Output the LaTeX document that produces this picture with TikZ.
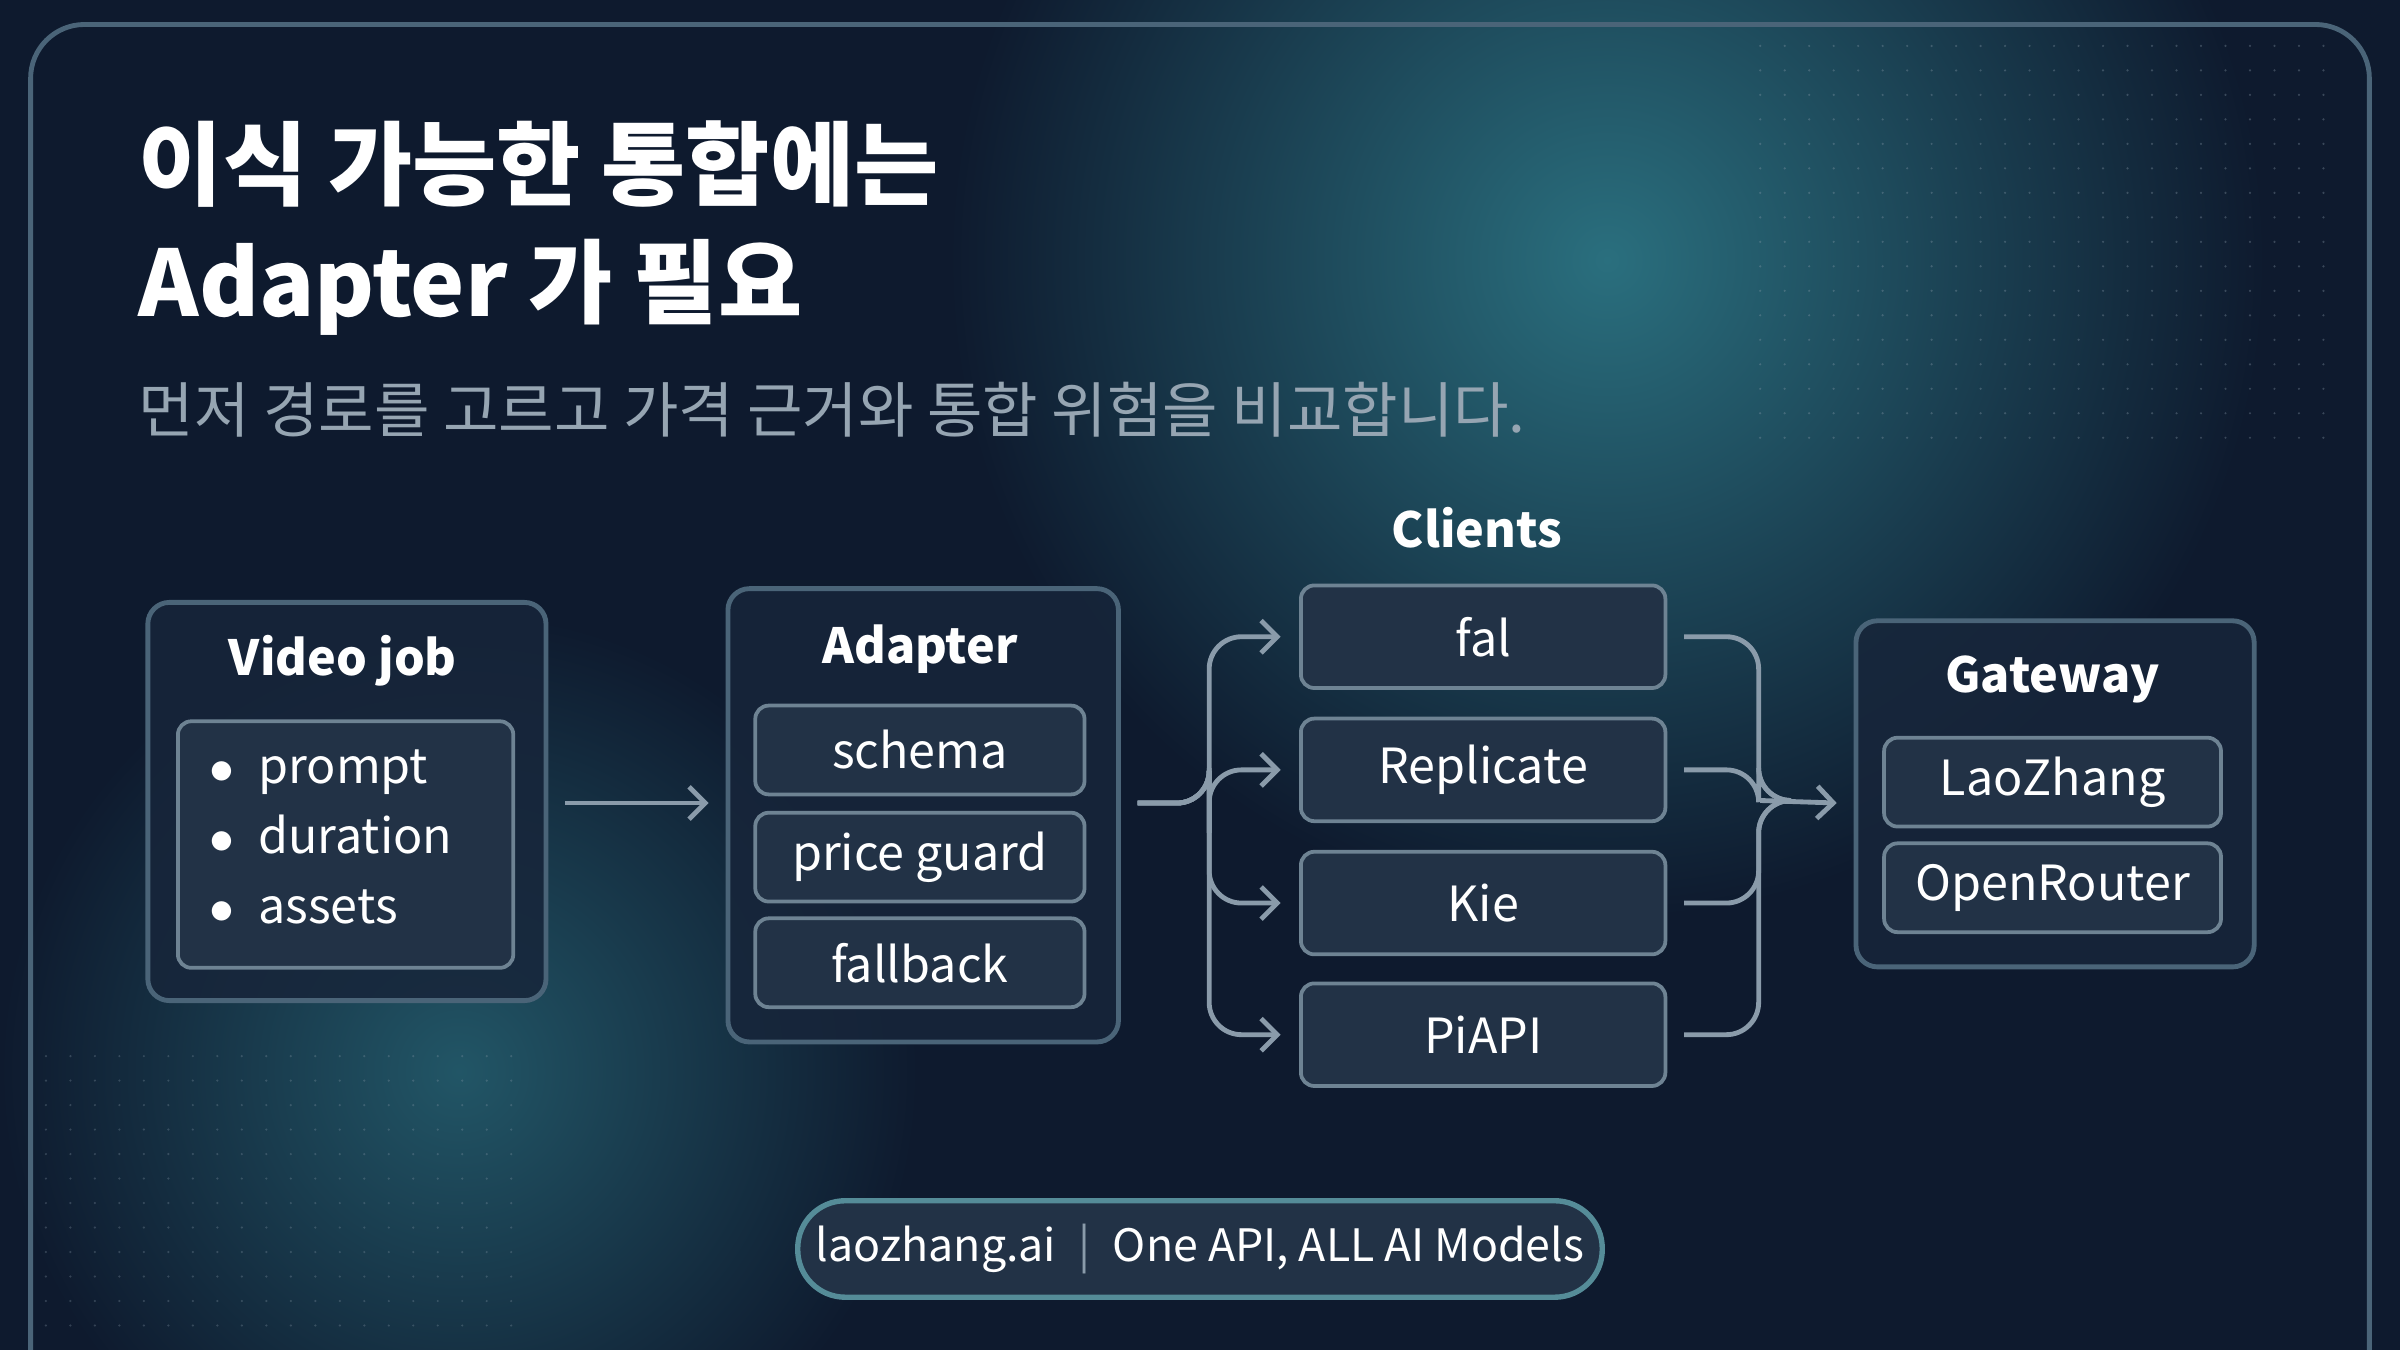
\documentclass[tikz,border=0pt]{standalone}
\usepackage{fontspec}
\setmainfont{Noto Sans CJK KR}
\usetikzlibrary{arrows.meta,calc}
\definecolor{bg}{HTML}{0E1A2E}
\definecolor{teal}{HTML}{2A6F7E}
\definecolor{boxf}{HTML}{17253A}
\definecolor{boxd}{HTML}{4A6478}
\definecolor{inf}{HTML}{223246}
\definecolor{lin}{HTML}{8A9BAA}
\begin{document}
\begin{tikzpicture}[x=0.01cm,y=-0.01cm,
  outer/.style={draw=boxd,line width=0.9pt,fill=boxf,rounded corners=4pt,fill opacity=0.85},
  inner/.style={draw=boxd!80,line width=0.7pt,fill=inf,rounded corners=2.5pt,text=white,font=\fontsize{9}{11}\selectfont,inner sep=0pt},
  ttl/.style={text=white,font=\bfseries\fontsize{9}{11}\selectfont},
  conn/.style={draw=lin,line width=0.9pt,rounded corners=6pt},
  arr/.style={conn,-{Straight Barb[length=3pt,width=6pt]}}]
\useasboundingbox (0,0) rectangle (1568,882);
\fill[bg] (0,0) rectangle (1568,882);
\shade[inner color=teal,outer color=bg] (1050,170) circle (430);
\shade[inner color=teal!70!bg,outer color=bg] (300,700) circle (300);
\foreach \i in {0,...,23}{\foreach \j in {0,...,16}{\fill[lin,opacity=0.35] (1150+\i*16,30+\j*16) circle (0.8);}}
\foreach \i in {0,...,19}{\foreach \j in {0,...,11}{\fill[lin,opacity=0.3] (30+\i*16,690+\j*16) circle (0.8);}}
\draw[boxd,line width=0.9pt,rounded corners=10pt] (20,900) -- (20,16) -- (1548,16) -- (1548,900);
\node[anchor=north west,text=white,font=\bfseries\fontsize{17}{22}\selectfont,align=left,inner sep=0pt] (title) at (90,78) {이식 가능한 통합에는\\Adapter 가 필요};
\node[anchor=west,text=lin!90!white,font=\fontsize{11.2}{13}\selectfont,inner sep=0pt] (sub) at (90,268) {먼저 경로를 고르고 가격 근거와 통합 위험을 비교합니다.};
% video job
\node[outer,minimum width=2.6cm,minimum height=2.6cm,anchor=north west] (vj) at (95,392) {};
\node[ttl] (vjt) at (224,432) {Video job};
\node[inner,minimum width=2.19cm,minimum height=1.61cm,anchor=north west] (vji) at (115,470) {};
\node[anchor=north west,text=white,font=\fontsize{9}{13}\selectfont,align=left,inner sep=0pt] (vjl) at (136,489) {$\bullet$\enspace prompt\\$\bullet$\enspace duration\\$\bullet$\enspace assets};
% adapter
\node[outer,minimum width=2.55cm,minimum height=2.96cm,anchor=north west] (ad) at (474,383) {};
\node[ttl] (adt) at (601,424) {Adapter};
\node[inner,minimum width=2.15cm,minimum height=0.58cm] (s1) at (601,490) {schema};
\node[inner,minimum width=2.15cm,minimum height=0.58cm] (s2) at (601,560) {price guard};
\node[inner,minimum width=2.15cm,minimum height=0.58cm] (s3) at (601,629) {fallback};
% clients
\node[ttl] (cl) at (965,345) {Clients};
\node[inner,minimum width=2.38cm,minimum height=0.67cm] (c1) at (969,416) {fal};
\node[inner,minimum width=2.38cm,minimum height=0.67cm] (c2) at (969,503) {Replicate};
\node[inner,minimum width=2.38cm,minimum height=0.67cm] (c3) at (969,590) {Kie};
\node[inner,minimum width=2.38cm,minimum height=0.67cm] (c4) at (969,676) {PiAPI};
% gateway
\node[outer,minimum width=2.6cm,minimum height=2.26cm,anchor=north west] (gw) at (1211,404) {};
\node[ttl] (gwt) at (1341,444) {Gateway};
\node[inner,minimum width=2.2cm,minimum height=0.58cm] (g1) at (1341,511) {LaoZhang};
\node[inner,minimum width=2.2cm,minimum height=0.58cm] (g2) at (1341,580) {OpenRouter};
% connectors
\coordinate (va) at ($(vj.east)+(11,1)$);
\draw[arr] (va) -- ($(va -| ad.west)+(-11,0)$);
\coordinate (fo) at ($(ad.east)+(11,-8)$);
\foreach \c in {c1,c2,c3,c4}{\draw[arr] (fo) -| (790,523) |- ($(\c.west)+(-12,0)$);}
\coordinate (mi) at ($(gw.west)+(-11,6)$);
\foreach \c in {c1,c2,c3,c4}{\draw[conn] ($(\c.east)+(11,0)$) -| (1149,523) -- (1160,523);}
\draw[arr] (1150,523) -- (mi);
% footer
\node[draw=teal!80!white,line width=1pt,fill=inf,rounded corners=0.31cm,minimum width=5.23cm,minimum height=0.63cm,text=white,font=\fontsize{8.3}{10}\selectfont] (ft) at (784,816) {laozhang.ai\enspace\textcolor{lin}{|}\enspace One API, ALL AI Models};
\end{tikzpicture}
\end{document}
